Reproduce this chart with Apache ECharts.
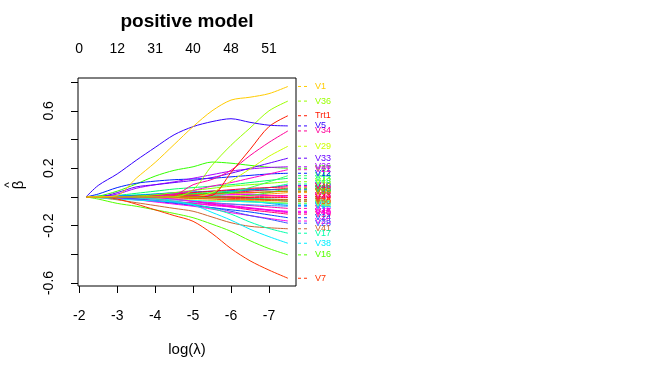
<!DOCTYPE html>
<html><head><meta charset="utf-8">
<script src="https://cdn.jsdelivr.net/npm/echarts@6/dist/echarts.min.js"></script>
<style>html,body{margin:0;padding:0;background:#fff}#c{width:672px;height:384px}</style>
</head><body><div id="c"></div>
<script>
// log(lambda) grid where coefficients are read
const logLambda = [-2.18, -2.5, -3, -3.5, -4, -4.5, -5, -5.5, -6, -6.5, -7, -7.5];
// axis ticks
const bottomTicks = [-2, -3, -4, -5, -6, -7];
const topTickPos = [-2, -3, -4, -5, -6, -7];
const topTickLabels = ['0', '12', '31', '40', '48', '51'];
const yTicks = [-0.6, -0.4, -0.2, 0, 0.2, 0.4, 0.6, 0.8];
const yTickLabels = [-0.6, -0.2, 0.2, 0.6];

// coefficient paths
const V1   = [0, 0, 0.01, 0.13, 0.24, 0.365, 0.49, 0.6, 0.675, 0.695, 0.72, 0.77];
const V36  = [0, 0, 0, 0, 0, 0, 0.05, 0.22, 0.36, 0.48, 0.6, 0.668];
const Trt1 = [0, 0, 0, 0, 0, 0, 0, 0.01, 0.17, 0.33, 0.49, 0.566];
const V5   = [0, 0.08, 0.16, 0.255, 0.345, 0.433, 0.49, 0.525, 0.545, 0.52, 0.5, 0.495];
const V34  = [0, 0, 0, 0, 0, 0.01, 0.085, 0.122, 0.186, 0.288, 0.38, 0.46];
const V29  = [0, 0, 0, 0, 0, 0, 0, 0.03, 0.11, 0.195, 0.283, 0.353];
const V33  = [0, 0, 0.03, 0.07, 0.085, 0.1, 0.115, 0.135, 0.165, 0.2, 0.235, 0.27];
const V26  = [0, 0, 0.02, 0.06, 0.085, 0.105, 0.13, 0.155, 0.18, 0.195, 0.205, 0.21];
const V12  = [0, 0.02, 0.065, 0.095, 0.11, 0.12, 0.125, 0.13, 0.14, 0.15, 0.16, 0.165];
const V21  = [0, 0, 0, 0, 0.005, 0.02, 0.045, 0.075, 0.1, 0.13, 0.16, 0.19];
const V37  = [0, 0.005, 0.04, 0.09, 0.145, 0.185, 0.21, 0.243, 0.235, 0.22, 0.207, 0.2];
const V44  = [0, 0, 0, 0, 0, 0, 0, 0.005, 0.03, 0.065, 0.105, 0.148];
const V43  = [0, 0, 0, 0.005, 0.015, 0.03, 0.045, 0.06, 0.075, 0.085, 0.095, 0.106];
const V13  = [0, 0, 0.01, 0.025, 0.04, 0.055, 0.065, 0.075, 0.085, 0.1, 0.115, 0.13];
const V46  = [0, 0, 0, 0.005, 0.01, 0.02, 0.03, 0.04, 0.05, 0.06, 0.065, 0.07];
const V48  = [0, 0, 0, 0, 0.005, 0.01, 0.015, 0.02, 0.025, 0.03, 0.035, 0.04];
const V2   = [0, 0, 0, 0.005, 0.01, 0.02, 0.03, 0.035, 0.04, 0.045, 0.05, 0.055];
const V4   = [0, 0, 0, 0, 0, 0.005, 0.01, 0.02, 0.03, 0.04, 0.05, 0.06];
const V10  = [0, 0, 0, 0, 0, 0.005, 0.01, 0.02, 0.035, 0.05, 0.065, 0.08];
const V8   = [0, 0, 0, 0, 0, 0, 0, 0, 0.005, 0.01, 0.02, 0.03];
const V18  = [0, 0, 0.005, 0.01, 0.015, 0.02, 0.025, 0.03, 0.04, 0.05, 0.065, 0.09];
const V20  = [0, 0, 0, -0.005, -0.01, -0.015, -0.02, -0.025, -0.03, -0.035, -0.04, -0.045];
const V22  = [0, 0.005, 0.01, 0.01, 0.005, 0, -0.005, -0.01, -0.02, -0.03, -0.04, -0.05];
const V23  = [0, 0, 0, 0, 0.005, 0.01, 0.015, 0.02, 0.02, 0.015, 0.01, 0.01];
const V27  = [0, 0, 0, 0, 0, 0, 0.005, 0.01, 0.015, 0.02, 0.01, 0];
const V30  = [0, 0, 0.005, 0.01, 0.02, 0.03, 0.035, 0.04, 0.045, 0.05, 0.05, 0.05];
const V31  = [0, 0, 0, 0, 0, 0, 0, 0, 0, 0.01, 0.03, 0.06];
const V32  = [0, 0, 0, 0, 0, -0.005, -0.01, -0.01, -0.005, 0, 0.005, 0.01];
const V35  = [0, 0, -0.005, -0.01, -0.015, -0.02, -0.025, -0.03, -0.03, -0.035, -0.04, -0.045];
const V39  = [0, 0, 0, 0.005, 0.01, 0.015, 0.02, 0.025, 0.03, 0.03, 0.035, 0.04];
const V42  = [0, 0, 0, 0, 0, 0, -0.005, -0.01, -0.02, -0.025, -0.035, -0.044];
const V49  = [0, 0, 0, 0, 0.005, 0.005, 0.005, 0, 0, -0.005, -0.005, -0.005];
const V50  = [0, 0, 0, 0, 0, -0.005, -0.01, -0.015, -0.02, -0.02, -0.025, -0.03];
const V9   = [0, 0, 0.005, 0.015, 0.02, 0.025, 0.02, 0.01, 0, -0.01, -0.02, -0.03];
const V11  = [0, 0, 0, -0.005, -0.01, -0.02, -0.03, -0.04, -0.05, -0.06, -0.07, -0.08];
const V6   = [0, 0.005, 0.01, 0.01, 0.005, 0, -0.005, -0.01, -0.02, -0.03, -0.045, -0.06];
const V14  = [0, 0, 0, 0, 0, 0, 0, -0.005, -0.01, -0.015, -0.02, -0.02];
const V15  = [0, 0, -0.01, -0.02, -0.03, -0.035, -0.04, -0.045, -0.05, -0.055, -0.06, -0.065];
const V40  = [0, 0, -0.005, -0.015, -0.025, -0.035, -0.045, -0.055, -0.065, -0.08, -0.095, -0.11];
const V45  = [0, 0, 0, -0.005, -0.015, -0.03, -0.045, -0.06, -0.07, -0.08, -0.09, -0.1];
const V47  = [0, 0, 0, 0, -0.005, -0.015, -0.03, -0.045, -0.06, -0.075, -0.09, -0.105];
const V24  = [0, 0, -0.005, -0.015, -0.03, -0.045, -0.06, -0.075, -0.09, -0.105, -0.125, -0.145];
const V28  = [0, 0, -0.005, -0.015, -0.025, -0.04, -0.055, -0.075, -0.1, -0.13, -0.155, -0.183];
const V25  = [0, 0, -0.01, -0.02, -0.035, -0.05, -0.065, -0.085, -0.11, -0.13, -0.15, -0.168];
const V41  = [0, -0.005, -0.02, -0.04, -0.06, -0.08, -0.1, -0.14, -0.18, -0.205, -0.215, -0.222];
const V17  = [0, 0, 0, -0.005, -0.015, -0.03, -0.05, -0.08, -0.12, -0.175, -0.22, -0.253];
const V38  = [0, -0.005, -0.015, -0.022, -0.028, -0.035, -0.056, -0.108, -0.162, -0.225, -0.277, -0.323];
const V16  = [0, -0.015, -0.045, -0.065, -0.09, -0.115, -0.145, -0.19, -0.24, -0.305, -0.36, -0.404];
const V7   = [0, 0, -0.015, -0.05, -0.09, -0.13, -0.17, -0.255, -0.36, -0.445, -0.51, -0.567];
const V19  = [0, 0, 0, 0, -0.005, -0.015, -0.03, -0.05, -0.07, -0.09, -0.105, -0.12];
const V3   = [0, 0, 0, 0, 0, 0, 0, 0, -0.005, -0.01, -0.015, -0.02];

const varNames = ['V2','V3','V4','V6','V8','V9','V10','V11','V13','V14','V15','V18','V19','V20','V22','V23','V27','V30','V31','V32','V35','V39','V42','V49','V50','V46','V48','V43','V44','V37','V12','V21','V26','V33','V29','V24','V45','V47','V40','V25','V28','V41','V17','V38','V16','V7','V34','Trt1','V36','V5','V1'];
const varColors = {
  V1:'#FFCC00', V36:'#99FF00', Trt1:'#FF1A00', V5:'#3300FF', V34:'#FF0099', V29:'#CCFF00',
  V33:'#6600FF', V26:'#AA00FF', V12:'#0022FF', V21:'#FF00CC', V37:'#33FF00', V44:'#33FF66',
  V43:'#88FF00', V13:'#00FF66', V46:'#FF0033', V48:'#FF6600', V2:'#FFEE00', V4:'#FF0055',
  V10:'#8800FF', V8:'#FF9900', V18:'#00FF99', V20:'#EEEE00', V22:'#00CCFF', V23:'#CC00FF',
  V27:'#FF00FF', V30:'#0066FF', V31:'#33FF33', V32:'#FF3366', V35:'#00FFFF', V39:'#00FF00',
  V42:'#99FF33', V49:'#FF0022', V50:'#FF5500', V9:'#00FFCC', V11:'#FF00AA', V6:'#0099FF',
  V14:'#FF3300', V15:'#3399FF', V40:'#FF00CC', V45:'#FF00FF', V47:'#EE00FF', V24:'#0044FF',
  V28:'#3355FF', V25:'#FF00EE', V41:'#CC6633', V17:'#00FFAA', V38:'#00EEFF', V16:'#55FF00',
  V7:'#FF3300', V19:'#FF0077', V3:'#00FF44'
};
const coefs = {V1,V36,Trt1,V5,V34,V29,V33,V26,V12,V21,V37,V44,V43,V13,V46,V48,V2,V4,V10,V8,V18,V20,V22,V23,V27,V30,V31,V32,V35,V39,V42,V49,V50,V9,V11,V6,V14,V15,V40,V45,V47,V24,V28,V25,V41,V17,V38,V16,V7,V19,V3};

const FONT = 'Liberation Sans, Arial, sans-serif';
const xMin = -7.713, xMax = -1.967, yMin = -0.621, yMax = 0.829;

const chart = echarts.init(document.getElementById('c'), null, {renderer: 'canvas'});
const series = varNames.map(n => ({
  name: n, type: 'line', showSymbol: false, smooth: 0.3, silent: true,
  lineStyle: {width: 1, color: varColors[n]},
  data: logLambda.map((x, i) => [x, coefs[n][i]])
}));

const option = {
  animation: false,
  backgroundColor: '#fff',
  grid: {left: 78, right: 376, top: 78, bottom: 98, show: true, borderColor: '#000', borderWidth: 1, backgroundColor: 'transparent'},
  xAxis: [{
    type: 'value', min: xMin, max: xMax, inverse: true, position: 'bottom',
    axisLine: {show: false, onZero: false}, splitLine: {show: false},
    axisTick: {show: true, length: 7, inside: false, customValues: bottomTicks, lineStyle: {color: '#000'}},
    axisLabel: {customValues: bottomTicks, margin: 23, fontSize: 14, color: '#000', fontFamily: FONT}
  }, {
    type: 'value', min: xMin, max: xMax, inverse: true, position: 'top',
    axisLine: {show: false, onZero: false}, splitLine: {show: false}, axisTick: {show: false},
    axisLabel: {customValues: topTickPos, margin: 22, fontSize: 14, color: '#000', fontFamily: FONT,
      formatter: v => topTickLabels[topTickPos.findIndex(p => Math.abs(p - v) < 1e-9)] || ''}
  }],
  yAxis: {
    type: 'value', min: yMin, max: yMax,
    axisLine: {show: false, onZero: false}, splitLine: {show: false},
    axisTick: {show: true, length: 7, customValues: yTicks, lineStyle: {color: '#000'}},
    axisLabel: {customValues: yTickLabels, rotate: 90, margin: 22, fontSize: 14, color: '#000', fontFamily: FONT}
  },
  series: series
};
chart.setOption(option);

// title, axis names and right-side variable labels (placed via the chart's own scales)
const graphics = [
  {type: 'text', style: {text: 'positive model', x: 187, y: 22, font: 'bold 19px ' + FONT, fill: '#000', textAlign: 'center', textVerticalAlign: 'middle'}},
  {type: 'text', style: {text: 'log(λ)', x: 187, y: 350, font: '15px ' + FONT, fill: '#000', textAlign: 'center', textVerticalAlign: 'middle'}},
  {type: 'group', x: 18, y: 185, rotation: Math.PI / 2, children: [
    {type: 'text', style: {text: 'β', x: 0, y: 1, font: '15px ' + FONT, fill: '#000', textAlign: 'center', textVerticalAlign: 'middle'}},
    {type: 'text', style: {text: '^', x: 0, y: -8, font: '12px ' + FONT, fill: '#000', textAlign: 'center', textVerticalAlign: 'middle'}}
  ]}
];
const boxRight = chart.convertToPixel({xAxisIndex: 0}, xMin);
varNames.forEach(n => {
  const last = coefs[n][coefs[n].length - 1];
  const py = chart.convertToPixel({yAxisIndex: 0}, last);
  graphics.push({type: 'line', shape: {x1: boxRight + 2, y1: py, x2: boxRight + 14, y2: py},
    style: {stroke: varColors[n], lineWidth: 1, lineDash: [3, 3]}});
  graphics.push({type: 'text', style: {text: n, x: boxRight + 19, y: py, font: '9px ' + FONT, fill: varColors[n], textAlign: 'left', textVerticalAlign: 'middle'}});
});
chart.setOption({graphic: graphics});
</script></body></html>
